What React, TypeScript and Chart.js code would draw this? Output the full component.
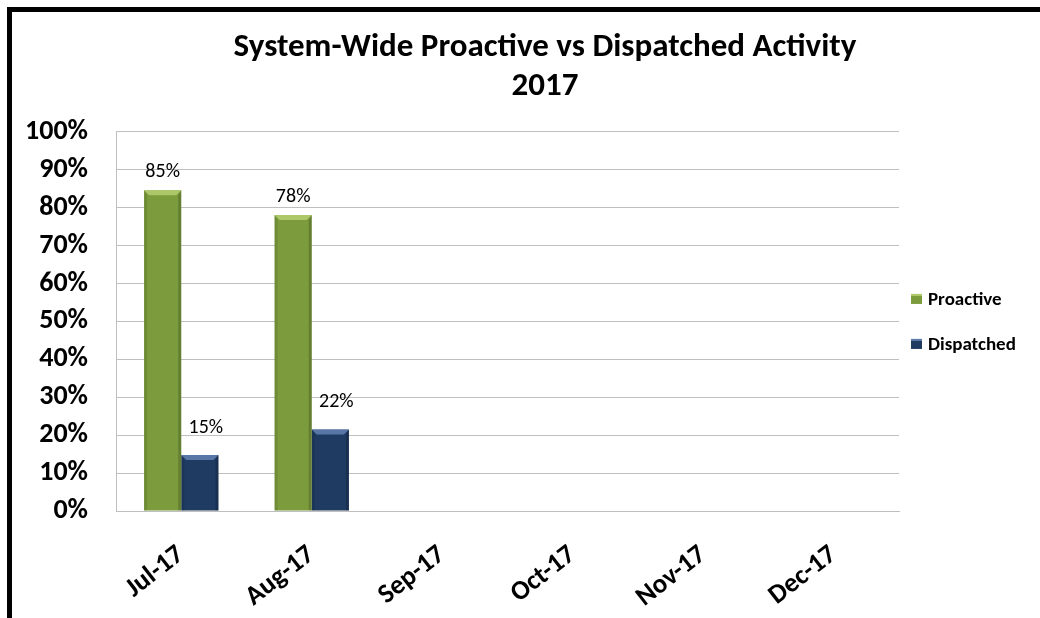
import React, { useEffect, useRef } from "react";
import { Chart, registerables } from "chart.js";

Chart.register(...registerables);

const categories = ["Jul-17", "Aug-17", "Sep-17", "Oct-17", "Nov-17", "Dec-17"];
const proactive = [84.6, 78.1, null, null, null, null];
const dispatched = [14.8, 21.5, null, null, null, null];
const yTicks = [0, 10, 20, 30, 40, 50, 60, 70, 80, 90, 100];
const titleLines = ["System-Wide Proactive vs Dispatched Activity", "2017"];

const FONT = "Carlito, Lato, 'Open Sans', sans-serif";

const labelPlugin = {
  id: "valueLabels",
  afterDatasetsDraw(chart: any) {
    const ctx = chart.ctx;
    ctx.save();
    ctx.font = `normal 20px ${FONT}`;
    ctx.fillStyle = "#000";
    ctx.textAlign = "center";
    ctx.textBaseline = "middle";
    chart.data.datasets.forEach((ds: any, di: number) => {
      const meta = chart.getDatasetMeta(di);
      const off = di === 0 ? 18 : 27;
      meta.data.forEach((el: any, i: number) => {
        const v = ds.data[i];
        if (v === null || v === undefined) return;
        ctx.fillText(`${Math.round(v)}%`, el.x + (di === 1 ? 6 : 0), el.y - off);
      });
    });
    ctx.restore();
  },
};

const bevelPlugin = {
  id: "bevel",
  afterDatasetsDraw(chart: any) {
    const ctx = chart.ctx;
    ctx.save();
    chart.data.datasets.forEach((ds: any, di: number) => {
      const meta = chart.getDatasetMeta(di);
      meta.data.forEach((el: any, i: number) => {
        const v = ds.data[i];
        if (v === null || v === undefined) return;
        const l = el.x - el.width / 2;
        const r = el.x + el.width / 2;
        const t = el.y;
        const b = el.base;
        const bv = 5;
        ctx.fillStyle = di === 0 ? "rgba(190,215,120,0.75)" : "rgba(110,140,190,0.75)";
        ctx.beginPath();
        ctx.moveTo(l, t);
        ctx.lineTo(r, t);
        ctx.lineTo(r - bv, t + bv);
        ctx.lineTo(l + bv, t + bv);
        ctx.closePath();
        ctx.fill();
        ctx.fillStyle = "rgba(0,0,0,0.18)";
        ctx.beginPath();
        ctx.moveTo(r, t);
        ctx.lineTo(r, b);
        ctx.lineTo(r - 3, b);
        ctx.lineTo(r - 3, t + bv);
        ctx.closePath();
        ctx.fill();
        ctx.fillStyle = "rgba(0,0,0,0.10)";
        ctx.beginPath();
        ctx.moveTo(l, t);
        ctx.lineTo(l + 3, t + bv);
        ctx.lineTo(l + 3, b);
        ctx.lineTo(l, b);
        ctx.closePath();
        ctx.fill();
      });
    });
    ctx.restore();
  },
};

const legendPlugin = {
  id: "sideLegend",
  afterDraw(chart: any) {
    const ctx = chart.ctx;
    const area = chart.chartArea;
    const mid = (area.top + area.bottom) / 2;
    const gap = 45;
    const n = chart.data.datasets.length;
    ctx.save();
    ctx.font = `bold 19px ${FONT}`;
    ctx.textAlign = "left";
    ctx.textBaseline = "middle";
    chart.data.datasets.forEach((ds: any, i: number) => {
      const y = mid + (i - (n - 1) / 2) * gap;
      const x = area.right + 12;
      ctx.fillStyle = ds.backgroundColor;
      ctx.fillRect(x, y - 5, 11, 10);
      ctx.fillStyle = i === 0 ? "rgba(190,215,120,0.8)" : "rgba(110,140,190,0.8)";
      ctx.fillRect(x, y - 5, 11, 2);
      ctx.fillStyle = "#000";
      ctx.fillText(ds.label, x + 17, y + 1);
    });
    ctx.restore();
  },
};

export default function App() {
  const ref = useRef<HTMLCanvasElement | null>(null);
  useEffect(() => {
    if (!ref.current) return;
    const chart = new Chart(ref.current, {
      type: "bar",
      data: {
        labels: categories,
        datasets: [
          {
            label: "Proactive",
            data: proactive,
            backgroundColor: "#7B9B3D",
            borderWidth: 0,
            categoryPercentage: 0.57,
            barPercentage: 1,
          },
          {
            label: "Dispatched",
            data: dispatched,
            backgroundColor: "#1F3B62",
            borderWidth: 0,
            categoryPercentage: 0.57,
            barPercentage: 1,
          },
        ],
      },
      options: {
        animation: false,
        responsive: false,
        maintainAspectRatio: false,
        layout: { padding: { left: 0, right: -50, top: 0, bottom: 0 } },
        plugins: {
          legend: { display: false },
          tooltip: { enabled: false },
          title: {
            display: true,
            text: titleLines,
            color: "#000",
            font: { family: FONT, size: 33, weight: "bold", lineHeight: 1.18 },
            padding: { top: 28, bottom: 26 },
          },
        },
        scales: {
          x: {
            grid: { display: false, drawTicks: false },
            border: { display: true, color: "#bfbfbf", width: 1 },
            ticks: {
              color: "#000",
              font: { family: FONT, size: 27, weight: "bold" },
              maxRotation: 38,
              minRotation: 38,
              padding: 28,
              autoSkip: false,
            },
            afterFit(scale: any) {
              scale.height = 107;
            },
          },
          y: {
            min: 0,
            max: 100,
            afterBuildTicks(scale: any) {
              scale.ticks = yTicks.map((v) => ({ value: v }));
            },
            grid: { color: "#bfbfbf", drawTicks: false, lineWidth: 1 },
            border: { display: true, color: "#bfbfbf", width: 1 },
            ticks: {
              color: "#000",
              font: { family: FONT, size: 28, weight: "bold" },
              padding: 28,
              callback: (v: any) => `${v}%`,
            },
            afterFit(scale: any) {
              scale.width = 116;
            },
          },
          legendSpace: {
            type: "linear",
            position: "right",
            display: true,
            grid: { display: false, drawTicks: false },
            border: { display: false },
            ticks: { display: false },
            afterFit(scale: any) {
              scale.width = 191;
            },
          },
        },
      },
      plugins: [bevelPlugin, labelPlugin, legendPlugin],
    });
    return () => chart.destroy();
  }, []);

  return (
    <div style={{ position: "fixed", left: 0, top: 0, width: 1040, height: 618, background: "#fff" }}>
      <canvas ref={ref} width={1040} height={618} style={{ position: "absolute", left: 0, top: 0 }} />
      <div
        style={{
          position: "absolute",
          left: 7,
          top: 7,
          width: 1040 - 7,
          height: 618 - 7,
          borderTop: "5px solid #000",
          borderLeft: "5px solid #000",
          boxSizing: "border-box",
          pointerEvents: "none",
        }}
      />
    </div>
  );
}
